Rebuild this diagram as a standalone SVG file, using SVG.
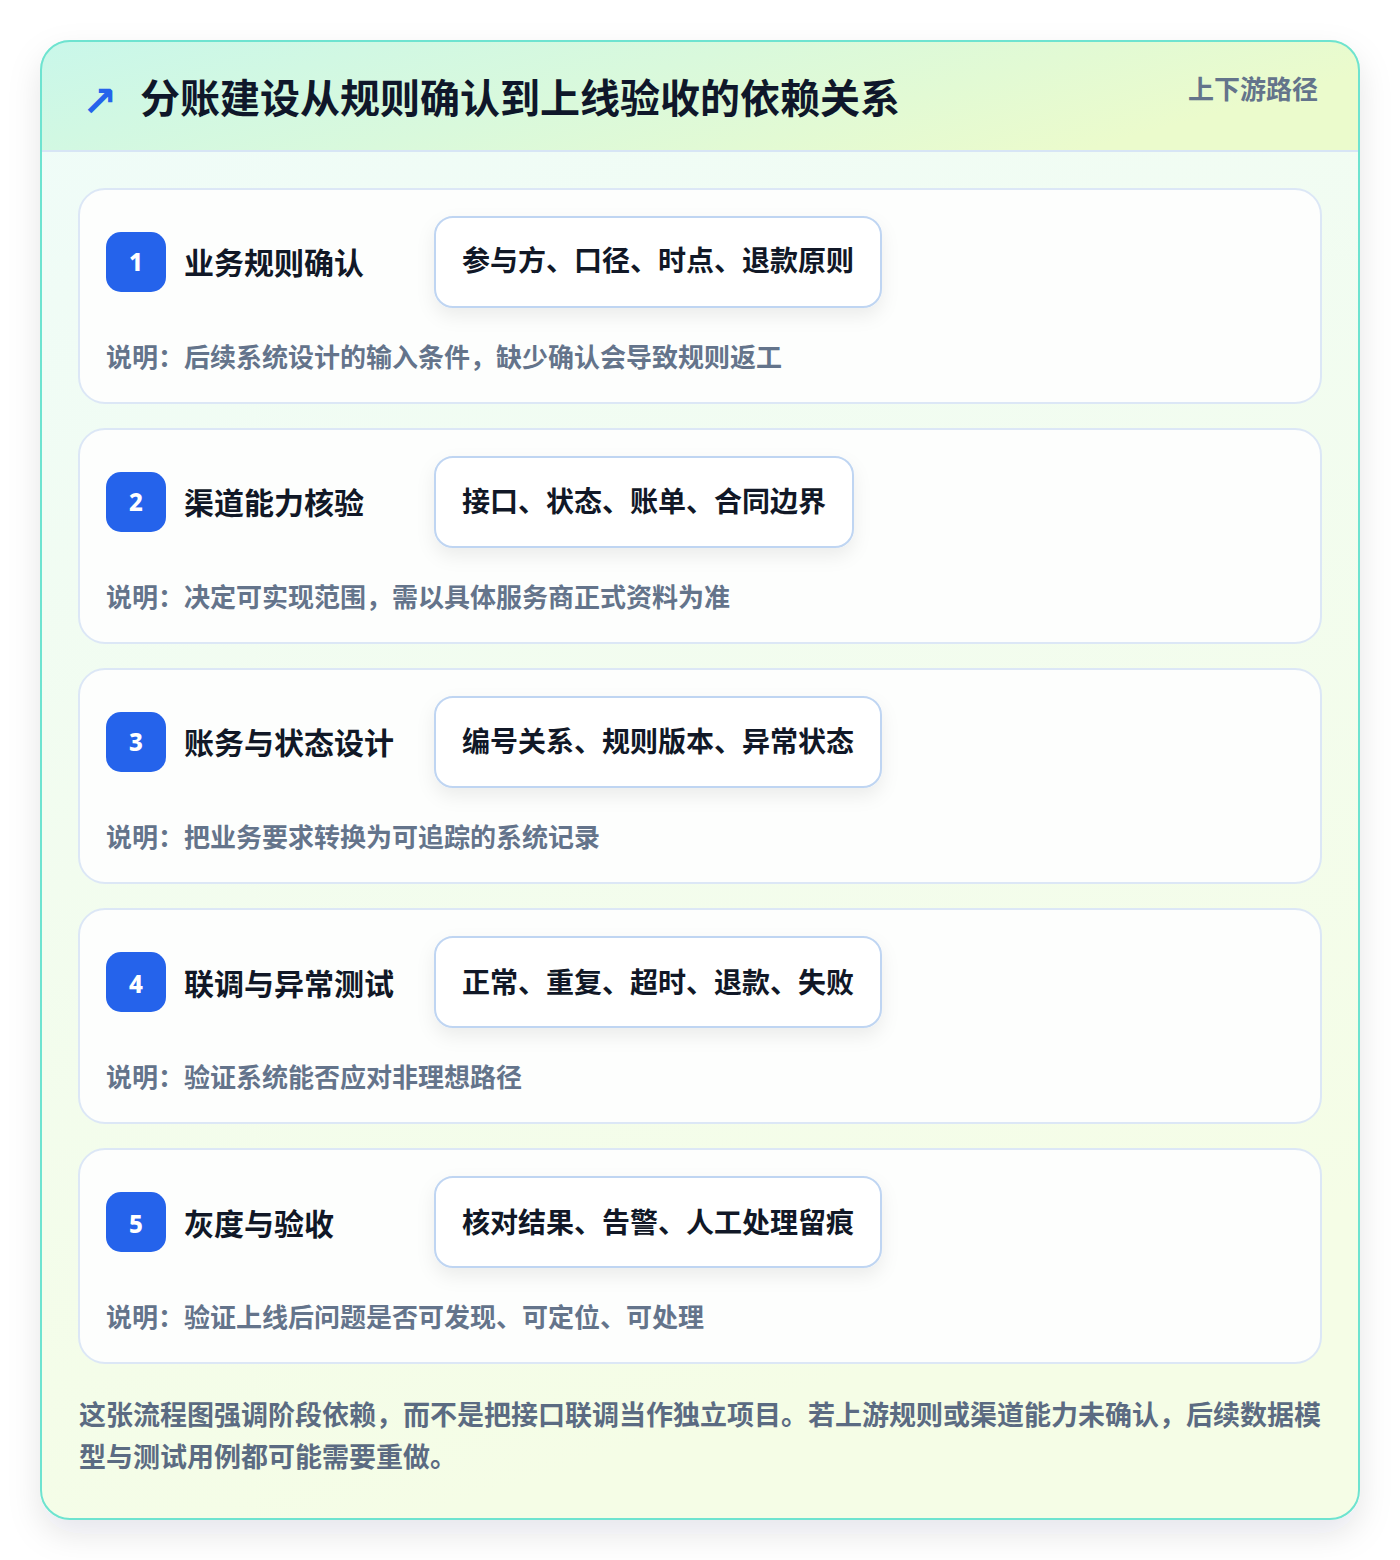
<svg xmlns="http://www.w3.org/2000/svg" width="1400" height="1560" viewBox="0 0 1400 1560">
<defs>
  <linearGradient id="hdr" x1="0" y1="0" x2="1" y2="0.3">
    <stop offset="0" stop-color="#c9f7ea"/>
    <stop offset="0.5" stop-color="#d9f9dc"/>
    <stop offset="1" stop-color="#ebfbcc"/>
  </linearGradient>
  <linearGradient id="body" x1="0" y1="0" x2="0.3" y2="1">
    <stop offset="0" stop-color="#effcf9"/>
    <stop offset="1" stop-color="#f5fde6"/>
  </linearGradient>
  <filter id="cardShadow" x="-10%" y="-10%" width="120%" height="120%">
    <feDropShadow dx="0" dy="14" stdDeviation="16" flood-color="#0f172a" flood-opacity="0.10"/>
  </filter>
  <filter id="tagShadow" x="-20%" y="-40%" width="140%" height="180%">
    <feDropShadow dx="0" dy="8" stdDeviation="9" flood-color="#0f172a" flood-opacity="0.07"/>
  </filter>
  <clipPath id="cardClip"><rect x="40" y="40" width="1320" height="1480" rx="30"/></clipPath>
</defs>
<style>
  text { font-family: "Noto Sans CJK SC", "Noto Sans", sans-serif; font-weight: 700; }
  .step { fill: #fdfefd; stroke: #dce7f6; stroke-width: 2; }
  .badge { fill: #2563eb; }
  .num { fill: #ffffff; font-size: 24px; text-anchor: middle; font-family: "Noto Sans", "DejaVu Sans", sans-serif; font-weight: 800; }
  .ttl { fill: #111827; font-size: 30px; }
  .tag { fill: #ffffff; stroke: #bfd5f2; stroke-width: 2; }
  .tagtxt { fill: #111827; font-size: 28px; }
  .desc { fill: #64748b; font-size: 26px; }
  .foot { fill: #5b6b82; font-size: 27px; }
</style>
<rect x="0" y="0" width="1400" height="1560" fill="#ffffff"/>
<g id="card">
  <rect x="40" y="40" width="1320" height="1480" rx="30" fill="url(#body)" filter="url(#cardShadow)"/>
  <g clip-path="url(#cardClip)">
    <rect x="40" y="40" width="1320" height="111" fill="url(#hdr)"/>
  </g>
  <line x1="40" y1="151" x2="1360" y2="151" stroke="#d7e5f5" stroke-width="2"/>
  <rect x="41" y="41" width="1318" height="1478" rx="29" fill="none" stroke="#6ee3d0" stroke-width="2"/>
</g>
<g id="header">
  <text x="82" y="116" fill="#2563eb" font-size="42" style="font-family:'DejaVu Sans',sans-serif;font-weight:700">↗</text>
  <text x="140" y="113" fill="#0f172a" font-size="40">分账建设从规则确认到上线验收的依赖关系</text>
  <text x="1318" y="99" fill="#64748b" font-size="26" text-anchor="end">上下游路径</text>
</g>
<g id="connectors"></g>
<g id="step1">
  <rect class="step" x="79" y="189" width="1242" height="214" rx="26"/>
  <rect class="badge" x="106" y="232" width="60" height="60" rx="15"/>
  <text class="num" x="136" y="271">1</text>
  <text class="ttl" x="184" y="274">业务规则确认</text>
  <rect class="tag" x="435" y="217" width="446" height="90" rx="18" filter="url(#tagShadow)"/>
  <text class="tagtxt" x="462" y="271">参与方、口径、时点、退款原则</text>
  <text class="desc" x="106" y="367">说明：后续系统设计的输入条件，缺少确认会导致规则返工</text>
</g>
<g id="step2">
  <rect class="step" x="79" y="429" width="1242" height="214" rx="26"/>
  <rect class="badge" x="106" y="472" width="60" height="60" rx="15"/>
  <text class="num" x="136" y="511">2</text>
  <text class="ttl" x="184" y="514">渠道能力核验</text>
  <rect class="tag" x="435" y="457" width="418" height="90" rx="18" filter="url(#tagShadow)"/>
  <text class="tagtxt" x="462" y="512">接口、状态、账单、合同边界</text>
  <text class="desc" x="106" y="607">说明：决定可实现范围，需以具体服务商正式资料为准</text>
</g>
<g id="step3">
  <rect class="step" x="79" y="669" width="1242" height="214" rx="26"/>
  <rect class="badge" x="106" y="712" width="60" height="60" rx="15"/>
  <text class="num" x="136" y="751">3</text>
  <text class="ttl" x="184" y="754">账务与状态设计</text>
  <rect class="tag" x="435" y="697" width="446" height="90" rx="18" filter="url(#tagShadow)"/>
  <text class="tagtxt" x="462" y="752">编号关系、规则版本、异常状态</text>
  <text class="desc" x="106" y="847">说明：把业务要求转换为可追踪的系统记录</text>
</g>
<g id="step4">
  <rect class="step" x="79" y="909" width="1242" height="214" rx="26"/>
  <rect class="badge" x="106" y="952" width="60" height="60" rx="15"/>
  <text class="num" x="136" y="993">4</text>
  <text class="ttl" x="184" y="995">联调与异常测试</text>
  <rect class="tag" x="435" y="937" width="446" height="90" rx="18" filter="url(#tagShadow)"/>
  <text class="tagtxt" x="462" y="993">正常、重复、超时、退款、失败</text>
  <text class="desc" x="106" y="1087">说明：验证系统能否应对非理想路径</text>
</g>
<g id="step5">
  <rect class="step" x="79" y="1149" width="1242" height="214" rx="26"/>
  <rect class="badge" x="106" y="1192" width="60" height="60" rx="15"/>
  <text class="num" x="136" y="1233">5</text>
  <text class="ttl" x="184" y="1235">灰度与验收</text>
  <rect class="tag" x="435" y="1177" width="446" height="90" rx="18" filter="url(#tagShadow)"/>
  <text class="tagtxt" x="462" y="1233">核对结果、告警、人工处理留痕</text>
  <text class="desc" x="106" y="1327">说明：验证上线后问题是否可发现、可定位、可处理</text>
</g>
<g id="footer">
  <text class="foot" x="79" y="1425">这张流程图强调阶段依赖，而不是把接口联调当作独立项目。若上游规则或渠道能力未确认，后续数据模</text>
  <text class="foot" x="79" y="1467">型与测试用例都可能需要重做。</text>
</g>
</svg>
